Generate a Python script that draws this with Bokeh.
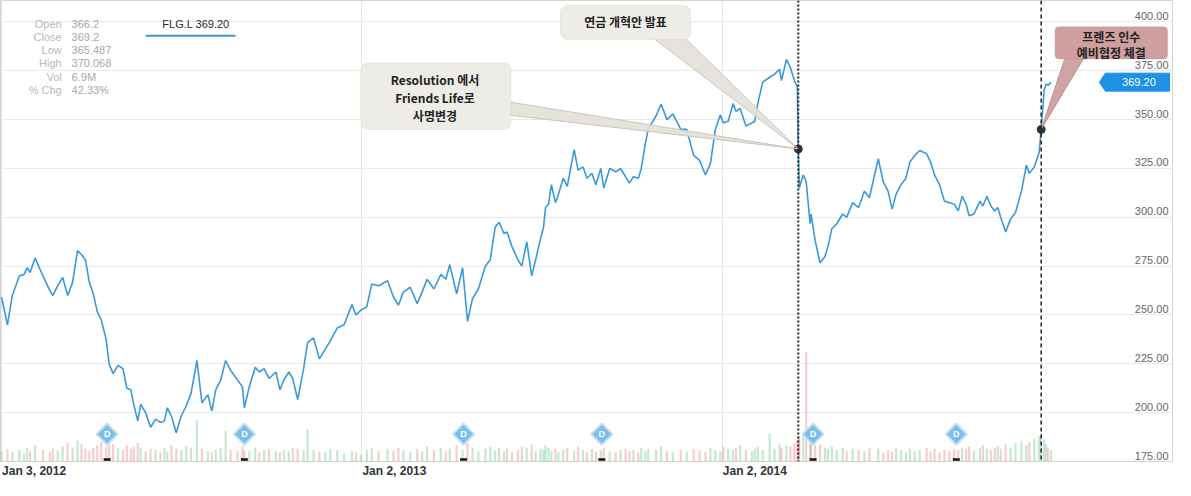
import math
import pandas as pd
from bokeh.plotting import figure
from bokeh.models import (Range1d, FixedTicker, CustomJSTickFormatter, Span,
                          BoxAnnotation, Label)
from bokeh.core.properties import value
from bokeh.embed import file_html
from bokeh.resources import INLINE

# ---------------- data ----------------
dates = [
    "2012-01-03","2012-01-09","2012-01-14","2012-01-21","2012-01-26","2012-01-29","2012-02-01","2012-02-06","2012-02-14","2012-02-21",
    "2012-02-24","2012-02-29","2012-03-05","2012-03-10","2012-03-15","2012-03-20","2012-03-24","2012-03-28","2012-04-01","2012-04-05",
    "2012-04-09","2012-04-13","2012-04-18","2012-04-21","2012-04-25","2012-04-30","2012-05-05","2012-05-09","2012-05-13","2012-05-16",
    "2012-05-20","2012-05-23","2012-05-28","2012-06-02","2012-06-07","2012-06-12","2012-06-16","2012-06-19","2012-06-23","2012-06-28",
    "2012-07-03","2012-07-08","2012-07-13","2012-07-19","2012-07-24","2012-07-30","2012-08-03","2012-08-07","2012-08-12","2012-08-17",
    "2012-08-22","2012-08-29","2012-09-03","2012-09-05","2012-09-10","2012-09-16","2012-09-20","2012-09-25","2012-09-30","2012-10-07",
    "2012-10-11","2012-10-15","2012-10-20","2012-10-24","2012-10-29","2012-11-04","2012-11-08","2012-11-14","2012-11-20","2012-11-26",
    "2012-12-01","2012-12-08","2012-12-15","2012-12-23","2012-12-27",
    "2013-01-01","2013-01-07","2013-01-12","2013-01-19","2013-01-28","2013-02-03","2013-02-08","2013-02-13","2013-02-20","2013-02-27",
    "2013-03-04","2013-03-09","2013-03-16","2013-03-23","2013-03-28","2013-04-01","2013-04-08","2013-04-14","2013-04-19","2013-04-24",
    "2013-04-30","2013-05-07","2013-05-12","2013-05-17","2013-05-21","2013-05-26","2013-05-29","2013-06-03","2013-06-09","2013-06-13",
    "2013-06-18","2013-06-23","2013-06-27","2013-07-02","2013-07-05","2013-07-07","2013-07-10","2013-07-13","2013-07-17","2013-07-20",
    "2013-07-25","2013-07-29","2013-08-05","2013-08-09","2013-08-14","2013-08-18","2013-08-23","2013-08-27","2013-09-01","2013-09-04",
    "2013-09-10","2013-09-16","2013-09-21","2013-09-26","2013-09-30","2013-10-04","2013-10-09","2013-10-12","2013-10-16","2013-10-19",
    "2013-10-27","2013-11-01","2013-11-07","2013-11-13","2013-11-21","2013-11-27","2013-12-04","2013-12-10","2013-12-16","2013-12-21",
    "2013-12-26","2013-12-31",
    "2014-01-03","2014-01-08","2014-01-13","2014-01-16","2014-01-20","2014-01-26","2014-02-01","2014-02-04","2014-02-07","2014-02-12",
    "2014-02-19","2014-02-24","2014-03-01","2014-03-03","2014-03-08","2014-03-12","2014-03-16","2014-03-19","2014-03-20","2014-03-21",
    "2014-03-25","2014-03-28","2014-04-01","2014-04-02","2014-04-06","2014-04-11","2014-04-16","2014-04-19","2014-04-23","2014-04-28",
    "2014-05-04","2014-05-08","2014-05-14","2014-05-20","2014-05-26","2014-05-31","2014-06-09","2014-06-14","2014-06-19","2014-06-23",
    "2014-06-27","2014-07-02","2014-07-07","2014-07-11","2014-07-16","2014-07-21","2014-07-28","2014-08-01","2014-08-05","2014-08-10",
    "2014-08-15","2014-08-20","2014-08-25","2014-08-29","2014-09-02","2014-09-06","2014-09-09","2014-09-14","2014-09-20","2014-09-23",
    "2014-09-27","2014-10-01","2014-10-05","2014-10-08","2014-10-11","2014-10-16","2014-10-21","2014-10-26","2014-11-01","2014-11-06",
    "2014-11-09","2014-11-14","2014-11-19","2014-11-21","2014-11-24","2014-11-26","2014-11-28","2014-12-01",
]

close = [
    259.2,245,260,270,270.8,274.2,271.7,279.2,270,262.5,
    260,265,269.2,260,266.7,283,280.8,278.3,266.7,260.8,
    251.7,247.5,237.5,225,220,224.2,222.5,212.5,211.7,204.2,
    195.8,204.2,200,192.5,196.7,195,195.8,202.5,198.3,189.7,
    198.3,203.3,210,226.7,205,209.2,200.8,211.7,216.7,226.7,
    221.7,216.7,213.3,202.5,213.3,223.3,220.8,222.5,217.5,220.8,
    211.7,216.7,220.8,217.5,206.7,222.5,235.8,238.3,227.5,232.5,
    236.7,243.3,245,255.3,250,
    252.5,254.2,265.8,265,267.5,259.2,255,261.7,264.2,255.8,
    261.7,268.3,263.3,270.8,268.3,275.8,260.8,274.2,246.7,258.3,
    263.3,275,278.3,295,297.5,291.7,292.5,285,278.3,275,
    287.5,270,278.3,289.2,295,305,306.7,316.7,307.5,311.7,
    320,315.8,334.7,324.2,325.8,320,322.5,316.7,325,315,
    325,323.3,325,320.8,317.5,320.8,320,325,337.5,345,
    352,358,350,353,345,345,331.7,329.2,321.7,327.5,
    345,352.5,
    348.3,349.2,358.3,354.2,355.8,346.7,348.3,349.2,358.3,369.2,
    371.7,373.3,375.8,370,380.8,376.7,370,366.7,335,315,
    321.7,318.3,296.7,301.7,288.3,276.7,280,285,294.2,296.7,
    301.7,300,307.5,305,313.3,310,330,318.3,313.3,304.2,
    311.7,316.7,320,328.3,331.7,334.2,332.5,328.3,321.7,316.7,
    308.3,307.5,306.7,303.3,310.8,306.7,300.8,301.7,308.3,305.8,
    310.8,305.8,303.3,305,300,292.5,299.2,302.5,313.3,326.7,
    322.5,325.8,333.3,345,365,368.3,367.5,369.2,
]

volume_m = [
    9,11,8,10,7,12,9,14,10,8, 11,9,13,16,12,18,15,11,9,12,
    14,17,13,19,15,12,10,14,11,13, 16,12,9,11,10,8,12,9,14,11,
    10,13,12,36,11,9,8,10,12,27, 10,9,13,10,9,12,8,10,11,9,
    8,10,9,12,11,10,28,10,9,8, 11,10,7,9,8,6,10,12,9,11,
    9,12,10,8,11,9,13,10,12,9, 11,14,10,16,12,9,11,13,10,12,
    9,11,8,10,13,12,15,9,11,10, 14,12,9,11,8,10,12,9,13,10,
    8,11,9,10,12,9,8,10,11,9, 10,8,12,9,11,10,13,9,8,10,
    9,11,10,8,12,10,9,13,11,10, 12,14,10,9,11,13,10,24,11,15,
    12,14,13,16,18,22,20,25,95,20, 18,14,15,12,11,13,10,12,9,11,
    10,9,12,11,8,10,9,12,10,8, 11,9,10,12,9,11,8,10,9,11,
    10,12,11,13,9,12,14,11,10,12, 13,11,15,12,16,18,14,17,20,22, 25,19,15,12,10,
]

y_ticks = [175, 200, 225, 250, 275, 300, 325, 350, 375, 400]
y_tick_labels = ["175.00", "200.00", "225.00", "250.00", "275.00",
                 "300.00", "325.00", "350.00", "375.00", "400.00"]
x_tick_dates = ["2012-01-03", "2013-01-02", "2014-01-02"]
x_tick_labels = ["Jan 3, 2012", "Jan 2, 2013", "Jan 2, 2014"]
dividend_dates = ["2012-04-19", "2012-09-05", "2013-04-15",
                  "2013-09-02", "2014-04-04", "2014-08-27"]
event_dates = ["2014-03-20", "2014-11-21"]
info_labels = ["Open", "Close", "Low", "High", "Vol", "% Chg"]
info_values = ["366.2", "369.2", "365.487", "370.068", "6.9M", "42.33%"]
ticker_name = "FLG.L"


def ms(d):
    return pd.Timestamp(d).value / 1e6


n = min(len(dates), len(close), len(volume_m))
dates, close, volume_m = dates[:n], close[:n], volume_m[:n]
xs = [ms(d) for d in dates]
DAY = 86400000.0

LINE = "#3a9ad9"
FONT = "Liberation Sans"
KFONT = "Noto Sans CJK KR"

x_start, x_end = ms("2012-01-02"), ms("2015-04-03")

p = figure(width=1175, height=480, x_axis_type="datetime",
           x_range=Range1d(x_start, x_end), y_range=Range1d(175, 411),
           output_backend="svg", toolbar_location=None,
           min_border_left=0, min_border_right=3, min_border_top=0,
           min_border_bottom=0, background_fill_color="white",
           border_fill_color="white")
p.outline_line_color = "#d4d4d4"

# axes / grids
p.yaxis.visible = False
p.ygrid.ticker = FixedTicker(ticks=y_ticks)
p.ygrid.grid_line_color = "#e9e9e9"
grid_ticks = [ms(d) for d in x_tick_dates]
p.xgrid.ticker = FixedTicker(ticks=grid_ticks)
p.xgrid.grid_line_color = "#e4e4e4"

# axis labels: placed half a label-width right of their grid line so that
# each label starts at its grid line (as in the reference)
LABEL_SHIFT = 33 * DAY
label_ticks = [t + LABEL_SHIFT for t in grid_ticks]
p.xaxis.ticker = FixedTicker(ticks=label_ticks)
p.xaxis.formatter = CustomJSTickFormatter(
    args=dict(pos_list=label_ticks, text_list=x_tick_labels),
    code="""
let best = 0, bd = Infinity;
for (let i = 0; i < pos_list.length; i++) {
  const dd = Math.abs(pos_list[i] - tick);
  if (dd < bd) { bd = dd; best = i; }
}
return text_list[best];
""")
p.xaxis.major_label_text_font = FONT
p.xaxis.major_label_text_font_style = "bold"
p.xaxis.major_label_text_font_size = "12px"
p.xaxis.major_label_text_color = "#333333"
p.xaxis.axis_line_color = None
p.xaxis.major_tick_line_color = None
p.xaxis.minor_tick_line_color = None
p.xaxis.major_tick_out = 0
p.xaxis.major_tick_in = 0
p.xaxis.minor_tick_out = 0
p.xaxis.major_label_standoff = 2

# volume bars
p.extra_y_ranges = {"vol": Range1d(0, 400)}
vcolors = []
for i in range(n):
    up = i == 0 or close[i] >= close[i - 1]
    vcolors.append("#6cc48a" if up else "#ee7f7f")
p.vbar(x=xs, top=volume_m, bottom=0, width=2.2 * DAY, y_range_name="vol",
       fill_color=vcolors, line_color=None, fill_alpha=0.4)

# price line
p.line(xs, close, line_color=LINE, line_width=1.6)

# right-side tick labels inside plot
p.text(x=[x_end] * len(y_ticks), y=y_ticks, text=y_tick_labels,
       text_align="right", text_baseline="bottom", x_offset=-4, y_offset=-2,
       text_font=value(FONT), text_font_size="11px", text_color="#666666")

# dividend markers
dx = [ms(d) for d in dividend_dates]
p.scatter(x=dx, y=[176] * len(dx), marker="dash", size=7,
          line_color="#111111", line_width=2.5)
p.scatter(x=dx, y=[189] * len(dx), marker="square", angle=math.pi / 4,
          size=15, fill_color="#7cbdea", line_color="#c2e0f6", line_width=2)
p.text(x=dx, y=[189] * len(dx), text=["D"] * len(dx), text_align="center",
       text_baseline="middle", text_color="white", text_font_size="9px",
       text_font=value(FONT), text_font_style="bold")

# event lines & dots
p.add_layout(Span(location=ms(event_dates[0]), dimension="height",
                  line_color="#222222", line_dash="2 2", line_width=2))
p.add_layout(Span(location=ms(event_dates[1]), dimension="height",
                  line_color="#222222", line_dash="4 3", line_width=1.5))
ev_x = [ms(d) for d in event_dates]
ev_y = [close[dates.index(d)] for d in event_dates]
p.scatter(x=ev_x, y=ev_y, size=8, fill_color="#333333", line_color="#333333")

# callout pointers (glyphs, drawn under boxes)
p.patch([ms("2013-05-20"), ev_x[0], ms("2013-05-20")], [360, ev_y[0], 353],
        fill_color="#e2e0d8", fill_alpha=0.9, line_color="#cbc6b9", line_width=1)
p.patch([ms("2013-10-21"), ev_x[0], ms("2013-11-23")], [393, ev_y[0], 393],
        fill_color="#e2e0d8", fill_alpha=0.9, line_color="#cbc6b9", line_width=1)
p.patch([ms("2014-12-16"), ev_x[1], ms("2015-01-05")], [383, ev_y[1], 383],
        fill_color="#cf9f9f", fill_alpha=0.95, line_color="#c09090", line_width=1)

# last price tag
last = close[-1]
p.patch([ms("2015-01-19"), ms("2015-01-25"), ms("2015-03-31"), ms("2015-03-31"), ms("2015-01-25")],
        [last, last + 4.6, last + 4.6, last - 4.6, last - 4.6],
        fill_color="#1e90e6", line_color="#1e90e6")
p.text(x=[ms("2015-02-28")], y=[last], text=[f"{last:.2f}"], text_align="center",
       text_baseline="middle", text_color="white", text_font_size="11px",
       text_font=value(FONT))

# info panel
info_y = [399, 392.3, 385.6, 378.8, 372, 365.3]
p.text(x=[ms("2012-03-04")] * len(info_labels), y=info_y, text=info_labels,
       text_align="right", text_baseline="middle", text_color="#b8b8b8",
       text_font_size="11px", text_font=value(FONT))
p.text(x=[ms("2012-03-14")] * len(info_values), y=info_y, text=info_values,
       text_align="left", text_baseline="middle", text_color="#a8a8a8",
       text_font_size="11px", text_font=value(FONT))
p.text(x=[ms("2012-07-18")], y=[399], text=[f"{ticker_name} {last:.2f}"],
       text_align="center", text_baseline="middle", text_color="#2a2a2a",
       text_font_size="11px", text_font=value(FONT))
p.line([ms("2012-05-28"), ms("2012-08-27")], [393, 393], line_color="#3b97d3",
       line_width=2)

# callout boxes (annotations)
p.add_layout(BoxAnnotation(left=ms("2013-01-01"), right=ms("2013-06-02"),
                           top=379, bottom=345, fill_color="#eeece6", fill_alpha=1,
                           line_color="#cdc8bc", line_width=1, border_radius=7))
p.add_layout(BoxAnnotation(left=ms("2013-07-22"), right=ms("2013-12-01"),
                           top=408.5, bottom=391, fill_color="#eeece6", fill_alpha=1,
                           line_color="#cdc8bc", line_width=1, border_radius=7))
p.add_layout(BoxAnnotation(left=ms("2014-12-05"), right=ms("2015-03-29"),
                           top=397.5, bottom=381, fill_color="#cf9f9f", fill_alpha=1,
                           line_color="#c09090", line_width=1, border_radius=4))

callout_texts = [
    ("Resolution 에서", ms("2013-03-17"), 370.5),
    ("Friends Life로", ms("2013-03-17"), 361.5),
    ("사명변경", ms("2013-03-17"), 352.3),
    ("연금 개혁안 발표", ms("2013-09-26"), 400),
    ("프렌즈 인수", ms("2015-01-31"), 392.6),
    ("예비협정 체결", ms("2015-01-31"), 384.6),
]
for t, lx, ly in callout_texts:
    p.add_layout(Label(x=lx, y=ly, text=t, text_align="center",
                       text_baseline="middle", text_font=KFONT,
                       text_font_style="bold", text_font_size="12px",
                       text_color="#222222"))

open("out.html", "w").write(file_html(p, INLINE))
